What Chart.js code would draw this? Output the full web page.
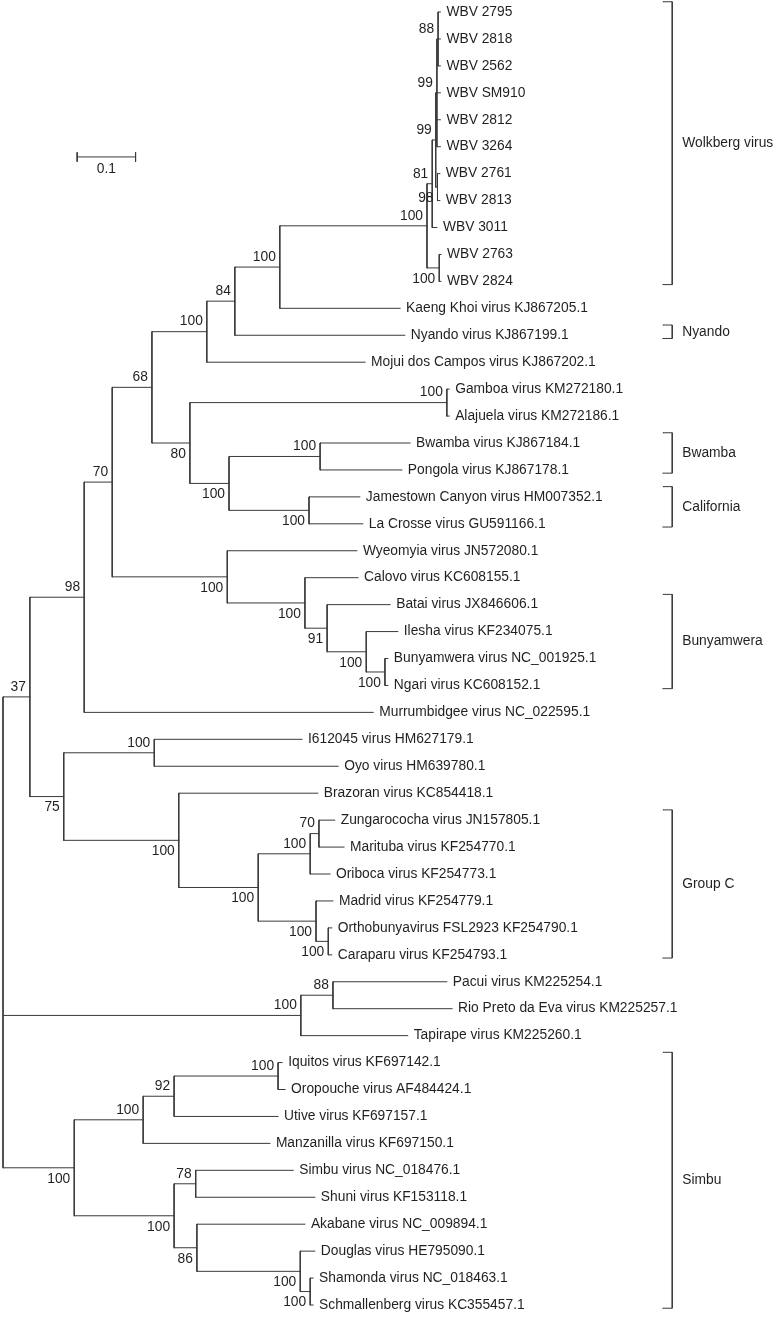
<!DOCTYPE html>
<html>
<head>
<meta charset="utf-8">
<title>Orthobunyavirus phylogeny</title>
<script src="https://cdn.jsdelivr.net/npm/chart.js@4.4.1/dist/chart.umd.min.js"></script>
<style>
  html, body { margin: 0; padding: 0; background: #fff; }
  #wrap { position: relative; width: 779px; height: 1317px; }
</style>
</head>
<body>
<div id="wrap"><canvas id="tree"></canvas></div>
<script>
// taxa, top to bottom: [name, parent node, distance from root]
const taxa = [
    ['WBV 2795', 'w88', 0.749],
    ['WBV 2818', 'w88', 0.749],
    ['WBV 2562', 'w88', 0.749],
    ['WBV SM910', 'w99a', 0.749],
    ['WBV 2812', 'w99a', 0.749],
    ['WBV 3264', 'w99a', 0.749],
    ['WBV 2761', 'w98', 0.748],
    ['WBV 2813', 'w98', 0.748],
    ['WBV 3011', 'w81', 0.743],
    ['WBV 2763', 'w100b', 0.750],
    ['WBV 2824', 'w100b', 0.750],
    ['Kaeng Khoi virus KJ867205.1', 'kk', 0.680],
    ['Nyando virus KJ867199.1', 'n84', 0.688],
    ['Mojui dos Campos virus KJ867202.1', 'n100m', 0.620],
    ['Gamboa virus KM272180.1', 'gam', 0.764],
    ['Alajuela virus KM272186.1', 'gam', 0.764],
    ['Bwamba virus KJ867184.1', 'bwa', 0.697],
    ['Pongola virus KJ867178.1', 'bwa', 0.683],
    ['Jamestown Canyon virus HM007352.1', 'cal', 0.611],
    ['La Crosse virus GU591166.1', 'cal', 0.616],
    ['Wyeomyia virus JN572080.1', 'wye', 0.606],
    ['Calovo virus KC608155.1', 'calo', 0.608],
    ['Batai virus JX846606.1', 'n91', 0.663],
    ['Ilesha virus KF234075.1', 'ile', 0.676],
    ['Bunyamwera virus NC_001925.1', 'bn', 0.659],
    ['Ngari virus KC608152.1', 'bn', 0.659],
    ['Murrumbidgee virus NC_022595.1', 'n98', 0.634],
    ['I612045 virus HM627179.1', 'i61', 0.512],
    ['Oyo virus HM639780.1', 'i61', 0.574],
    ['Brazoran virus KC854418.1', 'c1', 0.539],
    ['Zungarococha virus JN157805.1', 'n70c', 0.568],
    ['Marituba virus KF254770.1', 'n70c', 0.584],
    ['Oriboca virus KF254773.1', 'zmo', 0.560],
    ['Madrid virus KF254779.1', 'moc', 0.565],
    ['Orthobunyavirus FSL2923 KF254790.1', 'oc', 0.563],
    ['Caraparu virus KF254793.1', 'oc', 0.563],
    ['Pacui virus KM225254.1', 'n88p', 0.760],
    ['Rio Preto da Eva virus KM225257.1', 'n88p', 0.769],
    ['Tapirape virus KM225260.1', 'pac', 0.693],
    ['Iquitos virus KF697142.1', 'iq', 0.478],
    ['Oropouche virus AF484424.1', 'iq', 0.483],
    ['Utive virus KF697157.1', 'n92', 0.471],
    ['Manzanilla virus KF697150.1', 'iqm', 0.457],
    ['Simbu virus NC_018476.1', 'n78', 0.497],
    ['Shuni virus KF153118.1', 'n78', 0.534],
    ['Akabane virus NC_009894.1', 'n86', 0.517],
    ['Douglas virus HE795090.1', 'dss', 0.534],
    ['Shamonda virus NC_018463.1', 'ss', 0.531],
    ['Schmallenberg virus KC355457.1', 'ss', 0.531]
];

// internal nodes: [id, parent, distance from root, bootstrap]
const nodes = [
    ['root', null, 0, ''],
    ['n37', 'root', 0.046, '37'],
    ['n98', 'n37', 0.139, '98'],
    ['n70', 'n98', 0.187, '70'],
    ['n68', 'n70', 0.255, '68'],
    ['n100m', 'n68', 0.349, '100'],
    ['n84', 'n100m', 0.397, '84'],
    ['kk', 'n84', 0.474, '100'],
    ['w100', 'kk', 0.726, '100'],
    ['w81', 'w100', 0.735, '81'],
    ['w99b', 'w81', 0.741, '99'],
    ['w99a', 'w99b', 0.743, '99'],
    ['w88', 'w99a', 0.745, '88'],
    ['w98', 'w99b', 0.744, '98'],
    ['w100b', 'w100', 0.747, '100'],
    ['n80', 'n68', 0.320, '80'],
    ['gam', 'n80', 0.760, '100'],
    ['bc', 'n80', 0.387, '100'],
    ['bwa', 'bc', 0.543, '100'],
    ['cal', 'bc', 0.524, '100'],
    ['wye', 'n70', 0.384, '100'],
    ['calo', 'wye', 0.517, '100'],
    ['n91', 'calo', 0.555, '91'],
    ['ile', 'n91', 0.622, '100'],
    ['bn', 'ile', 0.654, '100'],
    ['n75', 'n37', 0.104, '75'],
    ['i61', 'n75', 0.259, '100'],
    ['c1', 'n75', 0.301, '100'],
    ['c2', 'c1', 0.437, '100'],
    ['zmo', 'c2', 0.526, '100'],
    ['n70c', 'zmo', 0.541, '70'],
    ['moc', 'c2', 0.536, '100'],
    ['oc', 'moc', 0.557, '100'],
    ['pac', 'root', 0.510, '100'],
    ['n88p', 'pac', 0.565, '88'],
    ['sim', 'root', 0.122, '100'],
    ['iqm', 'sim', 0.240, '100'],
    ['n92', 'iqm', 0.293, '92'],
    ['iq', 'n92', 0.471, '100'],
    ['sim2', 'sim', 0.293, '100'],
    ['n78', 'sim2', 0.330, '78'],
    ['n86', 'sim2', 0.332, '86'],
    ['dss', 'n86', 0.509, '100'],
    ['ss', 'dss', 0.526, '100']
];

// bootstrap values printed under the branch instead of above it
const supportBelow = ['w98', 'w100b', 'n80', 'bc', 'cal', 'wye', 'calo', 'n91', 'ile', 'bn',
    'n75', 'c1', 'c2', 'moc', 'oc', 'sim', 'sim2', 'n86', 'dss', 'ss'];

// clade brackets: [first taxon, last taxon, name]
const clades = [
    ['WBV 2795', 'WBV 2824', 'Wolkberg virus'],
    ['Nyando virus KJ867199.1', 'Nyando virus KJ867199.1', 'Nyando'],
    ['Bwamba virus KJ867184.1', 'Pongola virus KJ867178.1', 'Bwamba'],
    ['Jamestown Canyon virus HM007352.1', 'La Crosse virus GU591166.1', 'California'],
    ['Batai virus JX846606.1', 'Ngari virus KC608152.1', 'Bunyamwera'],
    ['Zungarococha virus JN157805.1', 'Caraparu virus KF254793.1', 'Group C'],
    ['Iquitos virus KF697142.1', 'Schmallenberg virus KC355457.1', 'Simbu']
];

const scaleBarLength = 0.1;
const scaleBarText = '0.1';

// layout (data units of the two scales)
const X_MAX = 1.3288;
const BRACKET_X = 1.146;
const BRACKET_TICK = 0.016;
const BAR_X0 = 0.127;
const BAR_Y = 5.38;
const BAR_TICK = 0.17;

const FONT = '13.8px "Liberation Sans", Arial, Helvetica, sans-serif';
const LINE = '#3a3a3a';
const TEXT = '#231f20';

// --- build the tree
const byId = {};
nodes.forEach(([id, parent, depth, support]) => {
    byId[id] = { id, parent, depth, support, kids: [] };
});
taxa.forEach(([name, parent, depth], i) => {
    byId[name] = { id: name, parent, depth, y: i, kids: [], leaf: true };
});
Object.values(byId).forEach(n => { if (n.parent) byId[n.parent].kids.push(n); });

function rowOf(n) {
    if (n.y !== undefined) return n.y;
    const ys = n.kids.map(rowOf);
    n.lo = Math.min(...ys);
    n.hi = Math.max(...ys);
    n.y = (n.lo + n.hi) / 2;
    return n.y;
}
rowOf(byId.root);

const branchPts = [];
const gap = { x: null, y: null };
nodes.forEach(([id]) => {
    const n = byId[id];
    branchPts.push({ x: n.depth, y: n.lo }, { x: n.depth, y: n.hi }, gap);
    n.kids.forEach(k => branchPts.push({ x: n.depth, y: k.y }, { x: k.depth, y: k.y }, gap));
});

const rowIndex = name => taxa.findIndex(t => t[0] === name);
const bracketPts = [];
const cladeMid = [];
clades.forEach(([a, b, label]) => {
    const y0 = rowIndex(a) - 0.38, y1 = rowIndex(b) + 0.12;
    bracketPts.push({ x: BRACKET_X - BRACKET_TICK, y: y0 }, { x: BRACKET_X, y: y0 },
        { x: BRACKET_X, y: y1 }, { x: BRACKET_X - BRACKET_TICK, y: y1 }, gap);
    cladeMid.push({ label, y: (y0 + y1) / 2 });
});

const barPts = [
    { x: BAR_X0, y: BAR_Y - BAR_TICK }, { x: BAR_X0, y: BAR_Y + BAR_TICK }, gap,
    { x: BAR_X0, y: BAR_Y }, { x: BAR_X0 + scaleBarLength, y: BAR_Y }, gap,
    { x: BAR_X0 + scaleBarLength, y: BAR_Y - BAR_TICK }, { x: BAR_X0 + scaleBarLength, y: BAR_Y + BAR_TICK }
];

// texts: taxon names, bootstrap values, clade names, scale bar
const treeLabels = {
    id: 'treeLabels',
    afterDatasetsDraw(chart) {
        const { ctx, scales: { x, y } } = chart;
        ctx.save();
        ctx.font = FONT;
        ctx.fillStyle = TEXT;
        ctx.textBaseline = 'middle';

        ctx.textAlign = 'left';
        taxa.forEach(([name, , depth], i) => {
            ctx.fillText(name, x.getPixelForValue(depth) + 6, y.getPixelForValue(i));
        });

        ctx.textAlign = 'right';
        nodes.forEach(([id, , depth, support]) => {
            if (!support) return;
            const off = supportBelow.includes(id) ? 11 : -10;
            ctx.fillText(support, x.getPixelForValue(depth) - 4, y.getPixelForValue(byId[id].y) + off);
        });

        ctx.textAlign = 'left';
        cladeMid.forEach(c => {
            ctx.fillText(c.label, x.getPixelForValue(BRACKET_X) + 10, y.getPixelForValue(c.y));
        });

        ctx.textAlign = 'center';
        ctx.fillText(scaleBarText, x.getPixelForValue(BAR_X0 + scaleBarLength / 2), y.getPixelForValue(BAR_Y) + 12);
        ctx.restore();
    }
};

const lineSet = (label, data) => ({
    label, data,
    showLine: true, spanGaps: false, clip: false,
    borderColor: LINE, borderWidth: 1, borderCapStyle: 'square',
    pointRadius: 0, pointHoverRadius: 0
});

new Chart(document.getElementById('tree'), {
    type: 'scatter',
    data: {
        datasets: [
            lineSet('branches', branchPts),
            lineSet('clades', bracketPts),
            lineSet('scale', barPts)
        ]
    },
    options: {
        responsive: true,
        maintainAspectRatio: false,
        animation: false,
        layout: { padding: { top: 12, bottom: 12, left: 3, right: 0 } },
        plugins: { legend: { display: false }, tooltip: { enabled: false } },
        scales: {
            x: { type: 'linear', display: false, min: 0, max: X_MAX },
            y: { type: 'linear', display: false, min: 0, max: taxa.length - 1, reverse: true }
        }
    },
    plugins: [treeLabels]
});
</script>
</body>
</html>
